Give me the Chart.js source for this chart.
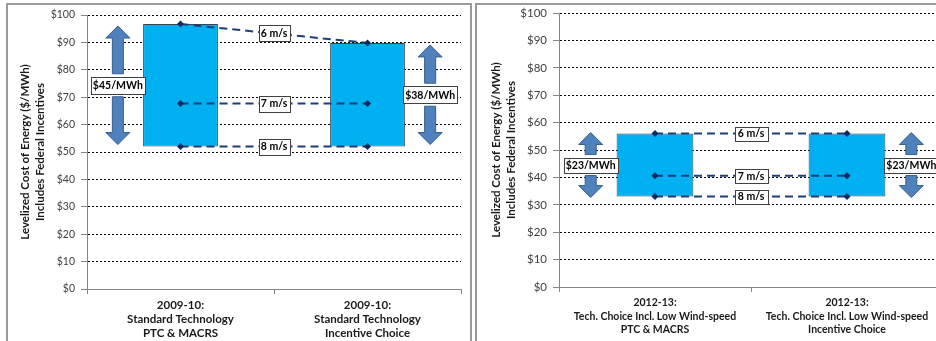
<!DOCTYPE html>
<html>
<head>
<meta charset="utf-8">
<script src="https://cdn.jsdelivr.net/npm/chart.js@4/dist/chart.umd.min.js"></script>
<style>
  html, body { margin:0; padding:0; background:#fff; }
  body { width:936px; height:341px; overflow:hidden; position:relative; }
  .panel { position:absolute; box-sizing:border-box; border-color:#9a9a9a; border-style:solid; }
  #pL { left:6px; top:3px; width:466px; height:345px; border-width:2px 2px 0 2px; }
  #pR { left:475px; top:3px; width:520px; height:345px; border-width:2px 0 0 2px; }
  canvas { position:absolute; top:0; }
  #cL { left:0; }
  #cR { left:476px; }
</style>
</head>
<body>
<div class="panel" id="pL"></div>
<div class="panel" id="pR"></div>
<canvas id="cL" width="471" height="341" style="width:471px;height:341px"></canvas>
<canvas id="cR" width="480" height="341" style="width:480px;height:341px"></canvas>
<script>
// ---------- data ----------
const yTicksMin = 0, yTicksMax = 100, yTickStep = 10;
const axisTitle = ['Levelized Cost of Energy ($/MWh)', 'Includes Federal Incentives'];
const seriesNames = ['6 m/s', '7 m/s', '8 m/s'];

const categoriesLeft = [
  ['2009-10:', 'Standard Technology', 'PTC & MACRS'],
  ['2009-10:', 'Standard Technology', 'Incentive Choice']
];
const ms6Left = [96.7, 89.8];
const ms7Left = [67.7, 67.7];
const ms8Left = [52.0, 52.0];
const rangeLabelsLeft = ['$45/MWh', '$38/MWh'];

const categoriesRight = [
  ['2012-13:', 'Tech. Choice Incl. Low Wind-speed', 'PTC & MACRS'],
  ['2012-13:', 'Tech. Choice Incl. Low Wind-speed', 'Incentive Choice']
];
const ms6Right = [56.0, 56.0];
const ms7Right = [40.6, 40.6];
const ms8Right = [33.0, 33.0];
const rangeLabelsRight = ['$23/MWh', '$23/MWh'];

const arrowSide = [-1, 1];

// ---------- drawing helpers ----------
Chart.defaults.font.family = 'Lato, "Open Sans", sans-serif';

function drawArrow(ctx, x, yTip, yBase, shaftW, headW, headL) {
  const dir = yBase > yTip ? 1 : -1;
  const yHead = yTip + dir * headL;
  ctx.beginPath();
  ctx.moveTo(x, yTip);
  ctx.lineTo(x + headW / 2, yHead);
  ctx.lineTo(x + shaftW / 2, yHead);
  ctx.lineTo(x + shaftW / 2, yBase);
  ctx.lineTo(x - shaftW / 2, yBase);
  ctx.lineTo(x - shaftW / 2, yHead);
  ctx.lineTo(x - headW / 2, yHead);
  ctx.closePath();
  ctx.fillStyle = '#4F81BD';
  ctx.fill();
  ctx.lineWidth = 1;
  ctx.strokeStyle = '#385D8A';
  ctx.stroke();
}

function drawBox(ctx, text, cx, cy, fontSize, h, padX) {
  ctx.font = 'bold ' + fontSize + 'px Lato, "Open Sans", sans-serif';
  const w = Math.round(ctx.measureText(text).width + padX * 2);
  const left = Math.round(cx - w / 2) + 0.5, top = Math.round(cy - h / 2) + 0.5;
  ctx.fillStyle = '#fff';
  ctx.fillRect(left, top, w, h);
  ctx.lineWidth = 1;
  ctx.strokeStyle = '#404040';
  ctx.strokeRect(left, top, w, h);
  ctx.fillStyle = '#000';
  ctx.textAlign = 'center';
  ctx.textBaseline = 'middle';
  ctx.fillText(text, cx, cy + 0.5);
}

function annotPlugin(rangeLabels, cfg) {
  return {
    id: 'annot',
    afterDatasetsDraw(chart) {
      const { ctx, scales: { x, y } } = chart;
      ctx.save();
      const x0 = x.getPixelForValue(0), x1 = x.getPixelForValue(1);
      const catW = x1 - x0;
      for (let d = 1; d < chart.data.datasets.length; d++) {
        const ds = chart.data.datasets[d];
        const ym = (y.getPixelForValue(ds.data[0]) + y.getPixelForValue(ds.data[1])) / 2;
        drawBox(ctx, ds.label, (x0 + x1) / 2, ym, cfg.msFont, cfg.msH, cfg.msPad);
      }
      chart.data.datasets[0].data.forEach((r, i) => {
        const xc = x.getPixelForValue(i) + arrowSide[i] * 0.335 * catW;
        const yTop = y.getPixelForValue(r[1]), yBot = y.getPixelForValue(r[0]);
        const yMid = (yTop + yBot) / 2;
        const bTop = yMid - cfg.boxH / 2, bBot = yMid + cfg.boxH / 2;
        drawArrow(ctx, xc, yTop + cfg.inset, bTop - 3, 11, 24, 12);
        drawArrow(ctx, xc, yBot - cfg.inset, bBot + 3, 11, 24, 12);
        drawBox(ctx, rangeLabels[i], xc, yMid, cfg.boxFont, cfg.boxH, 2);
      });
      ctx.restore();
    }
  };
}

function makeChart(id, cats, s6, s7, s8, rangeLabels, opt) {
  const lineDs = (label, data) => ({
    type: 'line', label, data, order: 1,
    borderColor: '#1F3D7A', borderWidth: 2, borderDash: [8, 5],
    pointStyle: 'rectRot', pointRadius: 3.5, pointBackgroundColor: '#0E2A5E',
    pointBorderWidth: 0, fill: false, tension: 0
  });
  return new Chart(document.getElementById(id), {
    type: 'bar',
    data: {
      labels: cats,
      datasets: [
        {
          type: 'bar', label: 'range', order: 2,
          data: s8.map((lo, i) => [lo, s6[i]]),
          backgroundColor: '#00B0F0', borderColor: '#2F4A56', borderWidth: 1,
          borderSkipped: false, barPercentage: 0.4, categoryPercentage: 1.0
        },
        lineDs(seriesNames[0], s6),
        lineDs(seriesNames[1], s7),
        lineDs(seriesNames[2], s8)
      ]
    },
    options: {
      responsive: false, animation: false, devicePixelRatio: 1,
      layout: { padding: { left: 0, right: opt.padRight, top: opt.padTop, bottom: 0 } },
      plugins: { legend: { display: false }, tooltip: { enabled: false } },
      scales: {
        x: {
          offset: true,
          grid: { offset: true, drawOnChartArea: false, drawTicks: true, tickLength: 5, color: '#868686' },
          border: { display: true, color: '#868686', width: 1 },
          ticks: {
            autoSkip: false, maxRotation: 0, minRotation: 0, padding: opt.xPad,
            color: '#1a1a1a', font: { size: opt.xFont, weight: 'bold', lineHeight: opt.xLH }
          },
          afterFit: (s) => { s.height = opt.xH; }
        },
        y: {
          min: yTicksMin, max: yTicksMax,
          grid: {
            color: (c) => (c.tick && c.tick.value === 0) ? 'rgba(0,0,0,0)' : '#000',
            tickColor: '#868686', tickLength: 6, lineWidth: 1
          },
          border: { display: true, color: '#868686', width: 1, dash: [2, 2] },
          ticks: {
            stepSize: yTickStep, padding: 6, color: '#404040',
            font: { size: opt.yFont },
            callback: (v) => '$' + v
          },
          title: {
            display: true, text: axisTitle, color: '#1a1a1a',
            font: { size: 11.5, weight: 'bold', lineHeight: 1.33 },
            padding: { top: opt.titlePad, bottom: 0 }
          },
          afterFit: (s) => { s.width = opt.yW; }
        }
      }
    },
    plugins: [annotPlugin(rangeLabels, opt)]
  });
}

makeChart('cL', categoriesLeft, ms6Left, ms7Left, ms8Left, rangeLabelsLeft, {
  padRight: 10, padTop: 15, xH: 52, yW: 87, yFont: 10.5, titlePad: 17.5, xPad: 4, xLH: 1.22, xFont: 11.5,
  msFont: 10.5, msH: 16, msPad: 2, boxFont: 10.5, boxH: 17, inset: 2
});
makeChart('cR', categoriesRight, ms6Right, ms7Right, ms8Right, rangeLabelsRight, {
  padRight: 13, padTop: 13, xH: 54, yW: 83, yFont: 11.5, titlePad: 12.5, xPad: 4, xLH: 1.29, xFont: 10.5,
  msFont: 10.5, msH: 14, msPad: 3, boxFont: 10.5, boxH: 15, inset: -1
});
</script>
</body>
</html>
